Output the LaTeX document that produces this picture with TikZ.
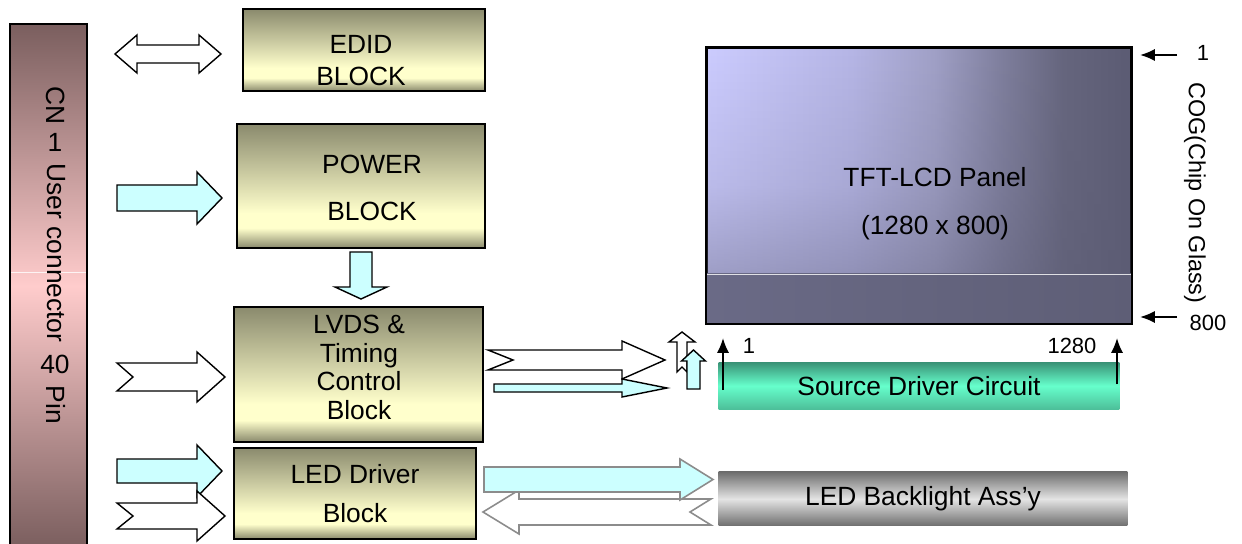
\documentclass[tikz,border=0pt]{standalone}
\usepackage{fontspec}
\setmainfont{Liberation Sans}
\usetikzlibrary{positioning,arrows.meta,fadings}

\definecolor{olivedark}{HTML}{8A8A6D}
\definecolor{olivelight}{HTML}{FFFFCC}
\definecolor{connbrown}{HTML}{7A5E5E}
\definecolor{connpink}{HTML}{FFCCCC}
\definecolor{panelhi}{HTML}{CCCCFF}
\definecolor{panelhitwo}{HTML}{B6B6E6}
\definecolor{panelmid}{HTML}{A0A0C6}
\definecolor{panelmidlow}{HTML}{7E7E9C}
\definecolor{panellowtwo}{HTML}{66667E}
\definecolor{panello}{HTML}{5C5C74}
\definecolor{panelstripl}{HTML}{6A6A86}
\definecolor{panelstripr}{HTML}{5E5E76}
\definecolor{srctop}{HTML}{3A9276}
\definecolor{srcmid}{HTML}{66FFCC}
\definecolor{srcbot}{HTML}{4DBF99}
\definecolor{bltop}{HTML}{6E6E6E}
\definecolor{blmid}{HTML}{E4E4E4}
\definecolor{arrowcyan}{HTML}{CCFFFF}
\definecolor{arrowgrey}{HTML}{8C8C8C}

\pgfdeclarehorizontalshading{panelshade}{100bp}{%
  color(0bp)=(panelhi); color(25bp)=(panelhi); color(42bp)=(panelhitwo);
  color(52bp)=(panelmid); color(60bp)=(panelmidlow); color(67bp)=(panellowtwo);
  color(75bp)=(panello); color(100bp)=(panello)}
\pgfdeclareverticalshading{oliveshade}{100bp}{%
  color(0bp)=(olivedark); color(25bp)=(olivedark); color(33bp)=(olivelight);
  color(39bp)=(olivelight); color(75bp)=(olivedark); color(100bp)=(olivedark)}
\tikzfading[name=paneldim, top color=transparent!100,
  bottom color=transparent!45, middle color=transparent!85]

% block arrow, horizontal: style, x0, x1, yc, shaft, head, head length, notch
\newcommand{\hfat}[8]{%
  \draw[#1] ({#2},{#4-(#5)}) -- ({#3-(#7)},{#4-(#5)}) -- ({#3-(#7)},{#4-(#6)})
    -- ({#3},{#4}) -- ({#3-(#7)},{#4+(#6)}) -- ({#3-(#7)},{#4+(#5)})
    -- ({#2},{#4+(#5)}) -- ({#2+(#8)},{#4}) -- cycle;}
% block arrow, vertical: style, xc, y0, y1, shaft, head, head length, notch
\newcommand{\vfat}[8]{%
  \draw[#1] ({#2-(#5)},{#3}) -- ({#2-(#5)},{#4-(#7)}) -- ({#2-(#6)},{#4-(#7)})
    -- ({#2},{#4}) -- ({#2+(#6)},{#4-(#7)}) -- ({#2+(#5)},{#4-(#7)})
    -- ({#2+(#5)},{#3}) -- ({#2},{#3+(#8)}) -- cycle;}

\begin{document}
\begin{tikzpicture}[
      x=0.02cm, y=-0.02cm,
      >={Latex[length=8.5pt,width=7pt]},
      every node/.style={
        inner sep=0pt,
        font=\fontsize{15}{18}\selectfont
      },
      block/.style={
        draw=black,
        line width=1.1pt,
        shading=oliveshade
      },
      fatarrow/.style={draw=black, line width=0.8pt, fill=white},
      cyanarrow/.style={fatarrow, fill=arrowcyan},
      greyarrow/.style={draw=arrowgrey, line width=0.9pt, fill=white},
      pinarrow/.style={->, line width=1.1pt},
      smalltext/.style={font=\fontsize{12.5}{15}\selectfont}
      ]

      \useasboundingbox (0,0) rectangle (1242,544);
      \clip (0,0) rectangle (1242,544);

      %%%%%%%%%%%%%%%%%%%%%%%%%%%%%%%%%%%%%%%%%%%%%%%%%%%%%%%%%%%%
      % User Connector
      %%%%%%%%%%%%%%%%%%%%%%%%%%%%%%%%%%%%%%%%%%%%%%%%%%%%%%%%%%%%

      \node (conn) at (48.5,286) [draw, line width=1.1pt,
        top color=connbrown, bottom color=connbrown, middle color=connpink,
        minimum width=1.54cm, minimum height=10.48cm] {};

      \draw[white, line width=0.5pt, opacity=0.8] (11,272) -- (86,272);

      \node (cn) at (56,106) [rotate=-90] {CN};
      \node (cnnum) at (55,142) {1};
      \node (user) at (56,253) [rotate=-90] {User connector};
      \node (pincount) at (55,364) {40};
      \node (pin) at (56,405) [rotate=-90] {Pin};

      %%%%%%%%%%%%%%%%%%%%%%%%%%%%%%%%%%%%%%%%%%%%%%%%%%%%%%%%%%%%
      % Control Blocks
      %%%%%%%%%%%%%%%%%%%%%%%%%%%%%%%%%%%%%%%%%%%%%%%%%%%%%%%%%%%%

      \node (edid) at (364,50) [block, minimum width=4.84cm, minimum height=1.64cm] {};

      \node (power) [block, below=0.62cm of edid, xshift=-0.06cm,
        minimum width=4.96cm, minimum height=2.48cm] {};

      \node (lvds) [block, below=1.14cm of power, xshift=-0.05cm,
        minimum width=4.98cm, minimum height=2.7cm] {};

      \node (led) [block, below=0.08cm of lvds, xshift=-0.07cm,
        minimum width=4.84cm, minimum height=1.82cm, align=center,
        font=\fontsize{15}{22.1}\selectfont] {LED Driver\\Block};

      \node (ediddtxt) at (361,60.5) [align=center,
        font=\fontsize{15}{18.7}\selectfont] {EDID\\BLOCK};
      \node (powertxt) at (372,188) [align=center,
        font=\fontsize{15}{27.2}\selectfont] {POWER\\BLOCK};
      \node (lvdstxt) at (359,367.5) [align=center,
        font=\fontsize{15}{16.2}\selectfont] {LVDS \&\\Timing\\Control\\Block};

      %%%%%%%%%%%%%%%%%%%%%%%%%%%%%%%%%%%%%%%%%%%%%%%%%%%%%%%%%%%%
      % Panel Side
      %%%%%%%%%%%%%%%%%%%%%%%%%%%%%%%%%%%%%%%%%%%%%%%%%%%%%%%%%%%%

      \node (panel) at (919,185.5) [draw, line width=1.1pt, shading=panelshade,
        minimum width=8.48cm, minimum height=5.5cm] {};
      \fill[panello, path fading=paneldim]
        (panel.north west) rectangle (panel.south east);
      \shade[left color=panelstripl, right color=panelstripr]
        (panel.south west) rectangle ([yshift=1cm]panel.south east);
      \draw[white, line width=0.5pt, opacity=0.8]
        ([yshift=1cm]panel.south west) -- ([yshift=1cm]panel.south east);
      \draw[line width=1.1pt] (panel.south west) rectangle (panel.north east);

      \node (paneltxt) at (935,203.5) [align=center,
        font=\fontsize{15}{27.2}\selectfont] {TFT-LCD Panel\\(1280 x 800)};

      \node (source) [below=0.76cm of panel, minimum width=8.02cm, minimum height=0.94cm,
        top color=srctop, bottom color=srcbot, middle color=srcmid]
        {Source Driver Circuit};

      \node (backlight) [below=1.24cm of source, xshift=0.08cm,
        minimum width=8.18cm, minimum height=1.08cm,
        top color=bltop, bottom color=bltop, middle color=blmid]
        {LED Backlight Ass’y};

      %%%%%%%%%%%%%%%%%%%%%%%%%%%%%%%%%%%%%%%%%%%%%%%%%%%%%%%%%%%%
      % Block Arrows
      %%%%%%%%%%%%%%%%%%%%%%%%%%%%%%%%%%%%%%%%%%%%%%%%%%%%%%%%%%%%

      % EDID
      \draw[fatarrow] (115,54) -- (137,35) -- (137,45) -- (199,45) -- (199,35)
        -- (221,54) -- (199,73) -- (199,63) -- (137,63) -- (137,73) -- cycle;

      % Power
      \hfat{cyanarrow}{117}{222}{198}{13}{26}{25}{0}
      \vfat{cyanarrow}{361}{252}{299}{11}{26}{12}{0}

      % LVDS
      \hfat{fatarrow}{117}{225}{377}{14}{25}{28}{16}
      \hfat{fatarrow}{488}{665}{360}{10}{19}{43}{25}
      \hfat{cyanarrow}{494}{667}{388}{4}{9}{45}{0}
      \vfat{fatarrow}{682}{372}{332}{5}{13}{-10}{-5}
      \vfat{cyanarrow}{693.5}{389}{350}{6.5}{12}{-11}{0}

      % LED
      \hfat{cyanarrow}{117}{222}{471}{12}{26}{25}{0}
      \hfat{fatarrow}{117}{225}{516}{13}{25}{28}{16}
      \hfat{greyarrow}{711}{483}{512}{13}{22}{-36}{-21}
      \hfat{greyarrow,fill=arrowcyan}{484}{713}{479.5}{12.5}{20.5}{33}{0}

      %%%%%%%%%%%%%%%%%%%%%%%%%%%%%%%%%%%%%%%%%%%%%%%%%%%%%%%%%%%%
      % Pin Order
      %%%%%%%%%%%%%%%%%%%%%%%%%%%%%%%%%%%%%%%%%%%%%%%%%%%%%%%%%%%%

      \draw[pinarrow] (1177,55) -- (1140,55);
      \draw[pinarrow] (1177,317) -- (1140,317);
      \draw[pinarrow] (723,390) -- (723,338);
      \draw[pinarrow] (1117,384) -- (1117,338);

      \node (rowfirst) at (1203,53) [smalltext] {1};
      \node (rowlast) at (1208,323) [smalltext] {800};
      \node (cog) at (1195,193) [rotate=-90, font=\fontsize{13.3}{16}\selectfont]
        {COG(Chip On Glass)};
      \node (colfirst) at (749,346) [smalltext] {1};
      \node (collast) at (1072,346) [smalltext] {1280};

\end{tikzpicture}
\end{document}
